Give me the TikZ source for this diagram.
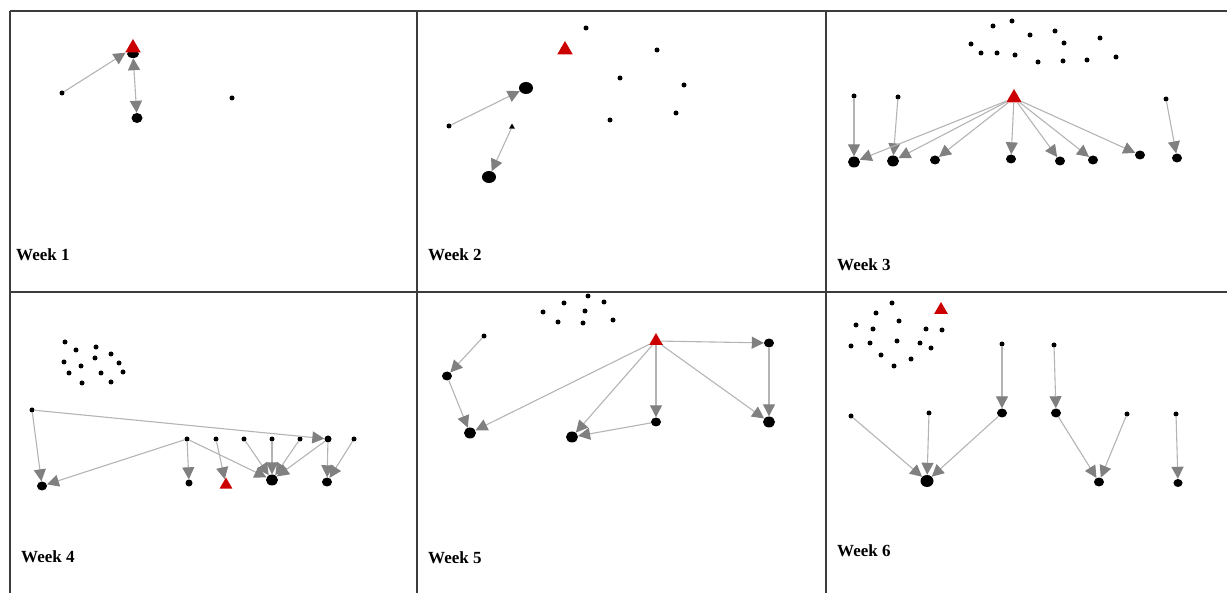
\documentclass[tikz,border=0pt]{standalone}
\usepackage{fontspec}
\setmainfont{Liberation Serif}
\usetikzlibrary{arrows.meta}
\usetikzlibrary{shapes.geometric}
\definecolor{egored}{HTML}{CC0000}
\definecolor{tiegray}{HTML}{B4B4B4}
\definecolor{tipgray}{HTML}{808080}
\definecolor{rulegray}{HTML}{3C3C3C}

\tikzset{
  gtip/.tip={Triangle[length=12pt, width=12pt, color=tipgray]},
  dot/.style={circle, fill=black, inner sep=0pt, minimum size=5pt},
  bigdot/.style={ellipse, fill=black, inner sep=0pt, minimum width=10pt, minimum height=9pt},
  hubdot/.style={ellipse, fill=black, inner sep=0pt, minimum width=14pt, minimum height=12pt},
  egotri/.style={regular polygon, regular polygon sides=3, fill=egored, inner sep=0pt, minimum size=18pt},
  smalltri/.style={regular polygon, regular polygon sides=3, fill=black, inner sep=0pt, minimum size=7pt},
  tie/.style={draw=tiegray, line width=1.1pt, -gtip},
  weeklabel/.style={font=\fontsize{17}{17}\selectfont\bfseries, anchor=base west, inner sep=0pt},
  tablerule/.style={draw=rulegray, line width=1.2pt}
}

\begin{document}
\begin{tikzpicture}[x=1pt, y=-1pt]
  \useasboundingbox (0,0) rectangle (1227,593);
  \draw[tablerule] (10,11) -- (1227,11);
  \draw[tablerule] (10,292) -- (1227,292);
  \draw[tablerule] (10,11) -- (10,593);
  \draw[tablerule] (417,11) -- (417,593);
  \draw[tablerule] (826,11) -- (826,593);

  % week 1
  \node[bigdot, minimum width=12pt, minimum height=8pt] (p1x) at (133,54) {};
  \node[egotri] (p1e) at (133,48) {};
  \node[dot] (p1a) at (62,93) {};
  \node[hubdot, minimum width=11pt, minimum height=10pt] (p1h) at (137,118) {};
  \node[dot] (p1b) at (232,98) {};
  \draw[tie] (p1a) -- (p1e);
  \draw[tie, gtip-gtip] (p1h) -- (p1x);
  \node[weeklabel] (w1) at (16,261) {Week 1};

  % week 2
  \node[egotri] (p2e) at (565,50) {};
  \foreach \x/\y [count=\i] in {586/28, 657/50, 620/78, 684/85, 676/113, 610/120}
    \node[dot] (p2c\i) at (\x,\y) {};
  \node[hubdot] (p2h) at (526,88) {};
  \node[dot] (p2a) at (449,126) {};
  \node[smalltri] (p2t) at (512,127) {};
  \node[hubdot] (p2g) at (489,177) {};
  \draw[tie] (p2a) -- (p2h);
  \draw[tie] (p2t) -- (p2g);
  \node[weeklabel] (w2) at (428,261) {Week 2};

  % week 3
  \foreach \x/\y [count=\i] in {993/26, 1012/21, 1030/35, 1055/31, 1064/43, 1100/38, 971/44,
      981/53, 997/53, 1015/55, 1038/62, 1063/61, 1087/60, 1116/57}
    \node[dot] (p3c\i) at (\x,\y) {};
  \node[egotri] (p3e) at (1014,98) {};
  \node[dot] (p3a) at (854,96) {};
  \node[dot] (p3b) at (898,97) {};
  \node[dot] (p3c) at (1166,99) {};
  \node[hubdot, minimum width=12pt, minimum height=11pt] (p3r1) at (854,162) {};
  \node[hubdot, minimum width=12pt, minimum height=11pt] (p3r2) at (893,161) {};
  \foreach \x/\y [count=\i from 3] in {935/160, 1011/159, 1060/161, 1093/160, 1140/155, 1177/158}
    \node[bigdot] (p3r\i) at (\x,\y) {};
  \draw[tie] (p3a) -- (p3r1);
  \draw[tie] (p3b) -- (p3r2);
  \draw[tie] (p3c) -- (p3r8);
  \foreach \i in {1,...,7}
    \draw[tie] (p3e) -- (p3r\i);
  \node[weeklabel] (w3) at (837,271) {Week 3};

  % week 4
  \foreach \x/\y [count=\i] in {65/342, 76/350, 96/347, 111/354, 64/362, 81/366, 95/358,
      119/363, 69/373, 101/373, 123/372, 82/383, 111/382}
    \node[dot] (p4c\i) at (\x,\y) {};
  \node[dot] (p4a) at (32,410) {};
  \foreach \x [count=\i] in {187, 216, 244, 272, 300}
    \node[dot] (p4m\i) at (\x,439) {};
  \node[bigdot, minimum width=7pt, minimum height=7pt] (p4n) at (328,439) {};
  \node[dot] (p4o) at (354,439) {};
  \node[bigdot] (p4l) at (42,486) {};
  \node[bigdot, minimum width=7pt, minimum height=7pt] (p4s) at (189,483) {};
  \node[egotri, minimum size=15pt] (p4e) at (226,485) {};
  \node[hubdot, minimum width=12pt, minimum height=11pt] (p4h) at (272,480) {};
  \node[bigdot] (p4r) at (327,482) {};
  \draw[tie] (p4a) -- (p4l);
  \draw[tie] (p4a) -- (p4n);
  \draw[tie] (p4m1) -- (p4l);
  \draw[tie] (p4m1) -- (p4s);
  \draw[tie] (p4m2) -- (p4e);
  \foreach \j in {p4m1, p4m3, p4m4, p4m5, p4n}
    \draw[tie] (\j) -- (p4h);
  \draw[tie] (p4n) -- (p4r);
  \draw[tie] (p4o) -- (p4r);
  \node[weeklabel] (w4) at (21,562) {Week 4};

  % week 5
  \foreach \x/\y [count=\i] in {588/296, 564/303, 604/302, 543/312, 585/311, 558/322, 583/323, 613/320}
    \node[dot] (p5c\i) at (\x,\y) {};
  \node[dot] (p5a) at (484,336) {};
  \node[bigdot] (p5b) at (447,376) {};
  \node[egotri, minimum size=16pt] (p5e) at (656,341) {};
  \node[bigdot] (p5f) at (769,343) {};
  \node[hubdot, minimum width=12pt, minimum height=11pt] (p5g) at (470,433) {};
  \node[hubdot, minimum width=12pt, minimum height=11pt] (p5h) at (572,437) {};
  \node[bigdot] (p5k) at (656,422) {};
  \node[hubdot, minimum width=12pt, minimum height=11pt] (p5m) at (769,422) {};
  \draw[tie] (p5a) -- (p5b);
  \draw[tie] (p5b) -- (p5g);
  \draw[tie] (p5f) -- (p5m);
  \draw[tie] (p5k) -- (p5h);
  \foreach \j in {p5g, p5h, p5k, p5f, p5m}
    \draw[tie] (p5e) -- (\j);
  \node[weeklabel] (w5) at (428,563) {Week 5};

  % week 6
  \foreach \x/\y [count=\i] in {892/303, 876/313, 899/321, 856/325, 873/329, 926/329, 942/330,
      851/346, 870/343, 897/341, 920/343, 931/348, 881/355, 911/359, 894/366}
    \node[dot] (p6c\i) at (\x,\y) {};
  \node[egotri, minimum size=16pt] (p6e) at (941,310) {};
  \node[dot] (p6a) at (1002,344) {};
  \node[dot] (p6b) at (1054,345) {};
  \node[dot] (p6m1) at (851,416) {};
  \node[dot] (p6m2) at (929,413) {};
  \node[bigdot] (p6m3) at (1002,413) {};
  \node[bigdot] (p6m4) at (1056,413) {};
  \node[dot] (p6m5) at (1127,414) {};
  \node[dot] (p6m6) at (1176,414) {};
  \node[hubdot, minimum width=13pt, minimum height=12pt] (p6h) at (927,481) {};
  \node[bigdot] (p6k) at (1099,482) {};
  \node[bigdot, minimum width=9pt, minimum height=8pt] (p6r) at (1178,483) {};
  \draw[tie] (p6a) -- (p6m3);
  \draw[tie] (p6b) -- (p6m4);
  \foreach \j in {p6m1, p6m2, p6m3}
    \draw[tie] (\j) -- (p6h);
  \draw[tie] (p6m4) -- (p6k);
  \draw[tie] (p6m5) -- (p6k);
  \draw[tie] (p6m6) -- (p6r);
  \node[weeklabel] (w6) at (837,556) {Week 6};
\end{tikzpicture}
\end{document}
